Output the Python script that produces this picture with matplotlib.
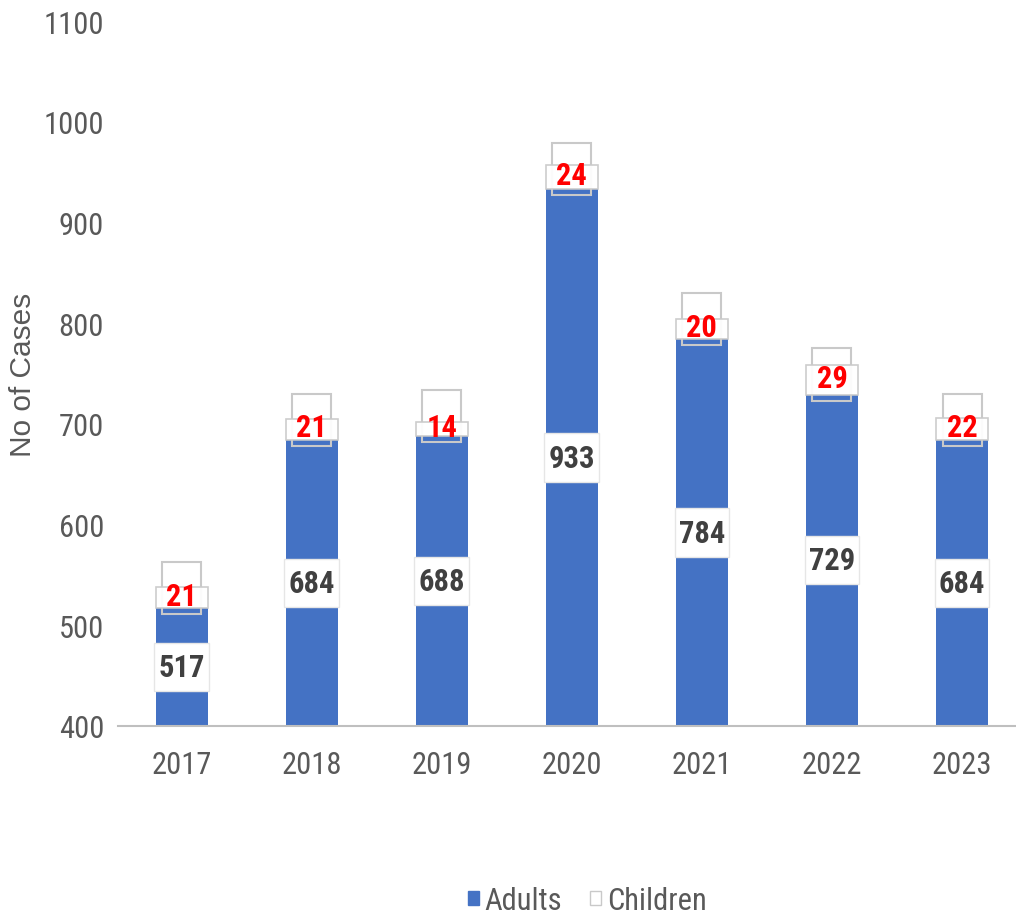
import os
import matplotlib
matplotlib.use("Agg")
import matplotlib.pyplot as plt
from matplotlib.patches import Rectangle, Patch
from matplotlib import font_manager
from matplotlib.font_manager import FontProperties

years = ["2017", "2018", "2019", "2020", "2021", "2022", "2023"]
adults = [517, 684, 688, 933, 784, 729, 684]
children = [21, 21, 14, 24, 20, 29, 22]
y_ticks = [400, 500, 600, 700, 800, 900, 1000, 1100]


def _w(f):
    w = f.weight
    if isinstance(w, str):
        w = {"normal": 400, "regular": 400, "bold": 700, "book": 400}.get(w.lower(), 400)
    return w


def find_condensed():
    keys = ["liberationsansnarrow", "robotocondensed", "notosanscondensed",
            "opensanscondensed", "dejavusanscondensed"]
    for key in keys:
        cands = []
        for f in font_manager.fontManager.ttflist:
            b = os.path.basename(f.fname).lower().replace("-", "").replace("_", "")
            if key in b and f.style == "normal":
                cands.append(f)
        reg = [f for f in cands if _w(f) == 400]
        bold = [f for f in cands if _w(f) == 700]
        if reg and bold:
            return reg[0].fname, bold[0].fname, key
    return None


found = find_condensed()
if found and found[2] in ("liberationsansnarrow", "robotocondensed", "notosanscondensed", "opensanscondensed"):
    FP_REG = FontProperties(fname=found[0])
    FP_BOLD = FontProperties(fname=found[1])
    FS = 22
else:
    FP_REG = FontProperties(family="Liberation Sans")
    FP_BOLD = FontProperties(family="Liberation Sans", weight="bold")
    FS = 19.5

plt.rcParams["font.family"] = ["Liberation Sans", "DejaVu Sans"]

BLUE = "#4472C4"
GRAY_TXT = "#595959"
EDGE = "#c9c9c9"

fig = plt.figure(figsize=(10.16, 9.2), dpi=100)
ax = fig.add_axes([0.116, 0.2098, 0.884, 0.7662])

x = list(range(len(years)))
bw = 0.4
ax.bar(x, adults, width=bw, color=BLUE, zorder=2)

ymin = y_ticks[0]
for i, (a, c) in enumerate(zip(adults, children)):
    ax.add_patch(Rectangle((i - 0.15, a - 6), 0.3, 52, facecolor="none",
                           edgecolor=EDGE, lw=1.5, zorder=2.5))
    ax.add_patch(Rectangle((i - bw / 2, a), bw, c, facecolor="white",
                           edgecolor=EDGE, lw=1.2, alpha=0.93, zorder=3))
    ax.text(i, a + c / 2 + 2, str(c), ha="center", va="center", color="#FF0000",
            fontproperties=FP_BOLD, fontsize=FS, zorder=5)
    mid = (ymin + a) / 2
    ax.add_patch(Rectangle((i - bw / 2 - 0.01, mid - 24), bw + 0.02, 48, facecolor="white",
                           edgecolor="#e6e6e6", lw=1, zorder=4))
    ax.text(i, mid, str(a), ha="center", va="center", color="#404040",
            fontproperties=FP_BOLD, fontsize=FS, zorder=5)

ax.set_xlim(-0.49, 6.415)
ax.set_ylim(400, 1100)
ax.set_yticks(y_ticks)
ax.set_xticks(x)
ax.set_xticklabels(years)
ax.tick_params(axis="both", length=0, colors=GRAY_TXT)
ax.tick_params(axis="x", pad=17)
ax.tick_params(axis="y", pad=10)
for lbl in ax.get_xticklabels() + ax.get_yticklabels():
    lbl.set_fontproperties(FP_REG)
    lbl.set_fontsize(FS)
for s in ["top", "right", "left"]:
    ax.spines[s].set_visible(False)
ax.spines["bottom"].set_color("#bfbfbf")
ax.spines["bottom"].set_linewidth(1.5)
ax.set_ylabel("No of Cases", fontsize=21.5, color=GRAY_TXT)
ax.yaxis.set_label_coords(-0.09, 0.5)

handles = [Patch(facecolor=BLUE, edgecolor=BLUE),
           Patch(facecolor="white", edgecolor=EDGE)]
leg_fp = FP_REG.copy()
leg_fp.set_size(FS)
leg = fig.legend(handles, ["Adults", "Children"], loc="center",
                 bbox_to_anchor=(0.578, 0.02), ncol=2, frameon=False,
                 prop=leg_fp, handlelength=0.35, handleheight=0.35,
                 handletextpad=0.2, columnspacing=0.9, labelcolor=GRAY_TXT)

fig.savefig("out.png", dpi=100)
